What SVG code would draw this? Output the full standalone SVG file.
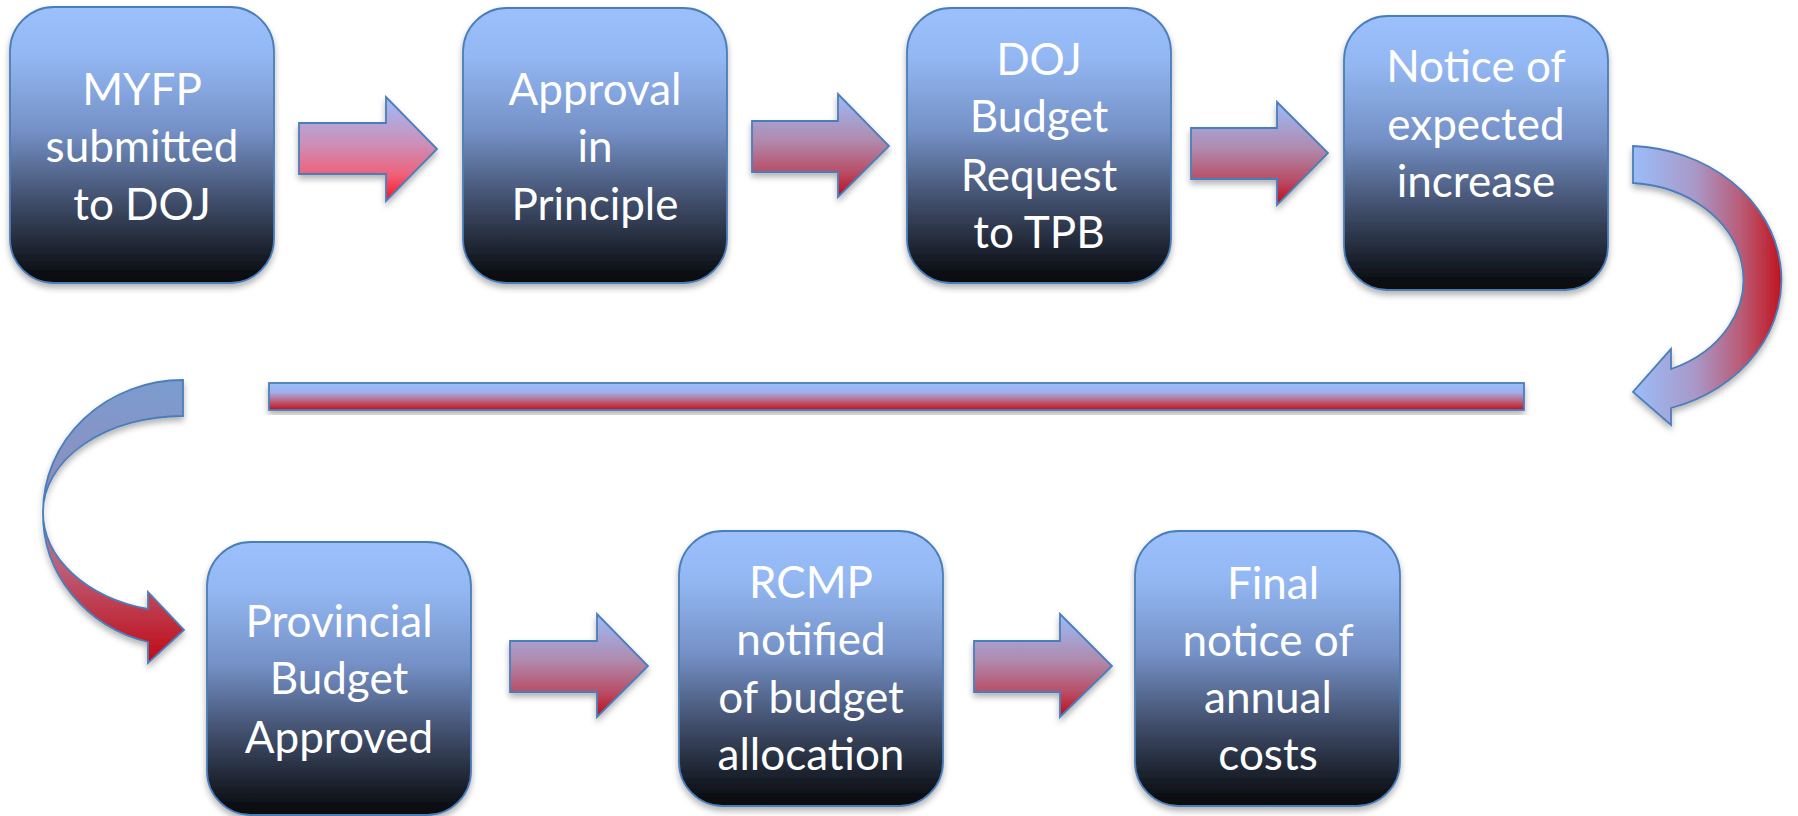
<svg xmlns="http://www.w3.org/2000/svg" width="1798" height="816" viewBox="0 0 1798 816">
<defs>
<linearGradient id="gBox" x1="0" y1="0" x2="0" y2="1">
<stop offset="0" stop-color="#9BC0FB"/>
<stop offset="0.18" stop-color="#93B7F2"/>
<stop offset="0.45" stop-color="#7490C6"/>
<stop offset="0.7" stop-color="#414F6C"/>
<stop offset="1" stop-color="#050608"/>
</linearGradient>
<linearGradient id="gArr1" x1="0" y1="0" x2="0" y2="1">
<stop offset="0" stop-color="#9EBCF9"/>
<stop offset="0.45" stop-color="#CC8FB8"/>
<stop offset="0.75" stop-color="#F0607A"/>
<stop offset="1" stop-color="#FF1020"/>
</linearGradient>
<linearGradient id="gArr" x1="0" y1="0" x2="0" y2="1">
<stop offset="0" stop-color="#9BBBF8"/>
<stop offset="0.45" stop-color="#B08AAE"/>
<stop offset="0.75" stop-color="#B85068"/>
<stop offset="1" stop-color="#C00A18"/>
</linearGradient>
<linearGradient id="gBar" x1="0" y1="0" x2="0" y2="1">
<stop offset="0" stop-color="#9BBDF9"/>
<stop offset="0.35" stop-color="#9FB0EA"/>
<stop offset="0.7" stop-color="#BC5A72"/>
<stop offset="1" stop-color="#C0101E"/>
</linearGradient>
<linearGradient id="gCurveR" gradientUnits="userSpaceOnUse" x1="1633" y1="0" x2="1789" y2="0">
<stop offset="0" stop-color="#9BBDF9"/>
<stop offset="0.4" stop-color="#A998C8"/>
<stop offset="0.7" stop-color="#BA5A74"/>
<stop offset="1" stop-color="#C2060E"/>
</linearGradient>
<linearGradient id="gCurveL" gradientUnits="userSpaceOnUse" x1="0" y1="380" x2="0" y2="663">
<stop offset="0" stop-color="#7B9CD0"/>
<stop offset="0.4" stop-color="#8E8EBC"/>
<stop offset="0.65" stop-color="#BC607A"/>
<stop offset="1" stop-color="#C00A14"/>
</linearGradient>
<filter id="sh" x="-10%" y="-10%" width="120%" height="125%">
<feDropShadow dx="0" dy="4" stdDeviation="3" flood-color="#000" flood-opacity="0.3"/>
</filter>
</defs>
<style>
.box{fill:url(#gBox);stroke:#4A7EBB;stroke-width:1.8;filter:url(#sh)}
.arr{fill:url(#gArr);stroke:#4A7EBB;stroke-width:1.8;filter:url(#sh)}
.t{font-family:Lato,"Open Sans",sans-serif;font-size:44px;fill:#FFFFFF;text-anchor:middle}
</style>
<g id="connectors">
<polygon class="arr" style="fill:url(#gArr1)" points="299,123 386,123 386,97 437,149 386,201 386,174 299,174"/>
<polygon class="arr" points="752,121 838,121 838,94 889,146 838,197 838,172 752,172"/>
<polygon class="arr" points="1191,128 1277,128 1277,102 1328,153 1277,205 1277,179 1191,179"/>
<path class="arr" style="fill:url(#gCurveR)" d="M1633,146 A156,134 0 0 1 1671,408 L1671,425 L1633,392 L1671,349 L1671,369 A119,97 0 0 0 1633,183 Z"/>
<rect class="arr" style="fill:url(#gBar)" x="269" y="383" width="1255" height="27"/>
<path class="arr" style="fill:url(#gCurveL)" d="M183,380 A140,132 0 0 0 43,512 A140,96 0 0 1 183,416 Z"/>
<path class="arr" style="fill:url(#gCurveL)" d="M43,512 A140,132 0 0 0 148,642 L148,663 L184,630 L148,592 L148,609 A140,100 0 0 1 43,512 Z"/>
<polygon class="arr" points="510,641 597,641 597,614 648,666 597,717 597,692 510,692"/>
<polygon class="arr" points="974,641 1060,641 1060,614 1112,666 1060,717 1060,692 974,692"/>
</g>
<g id="node1">
<rect class="box" x="10" y="7" width="264" height="276" rx="44"/>
<text class="t" x="142" y="105">MYFP</text>
<text class="t" x="142" y="162">submitted</text>
<text class="t" x="142" y="220">to DOJ</text>
</g>
<g id="node2">
<rect class="box" x="463" y="8" width="264" height="275" rx="44"/>
<text class="t" x="595" y="105">Approval</text>
<text class="t" x="595" y="162">in</text>
<text class="t" x="595" y="220">Principle</text>
</g>
<g id="node3">
<rect class="box" x="907" y="8" width="264" height="275" rx="44"/>
<text class="t" x="1039" y="75">DOJ</text>
<text class="t" x="1039" y="132">Budget</text>
<text class="t" x="1039" y="191">Request</text>
<text class="t" x="1039" y="248">to TPB</text>
</g>
<g id="node4">
<rect class="box" x="1344" y="16" width="264" height="274" rx="44"/>
<text class="t" x="1476" y="82">Notice of</text>
<text class="t" x="1476" y="140">expected</text>
<text class="t" x="1476" y="197">increase</text>
</g>
<g id="node5">
<rect class="box" x="207" y="542" width="264" height="273" rx="44"/>
<text class="t" x="339" y="637">Provincial</text>
<text class="t" x="339" y="694">Budget</text>
<text class="t" x="339" y="753">Approved</text>
</g>
<g id="node6">
<rect class="box" x="679" y="531" width="264" height="275" rx="44"/>
<text class="t" x="811" y="598">RCMP</text>
<text class="t" x="811" y="655">notified</text>
<text class="t" x="811" y="713">of budget</text>
<text class="t" x="811" y="770">allocation</text>
</g>
<g id="node7">
<rect class="box" x="1135" y="531" width="265" height="275" rx="44"/>
<text class="t" x="1273" y="599">Final</text>
<text class="t" x="1268" y="656">notice of</text>
<text class="t" x="1268" y="713">annual</text>
<text class="t" x="1268" y="770">costs</text>
</g>
</svg>
